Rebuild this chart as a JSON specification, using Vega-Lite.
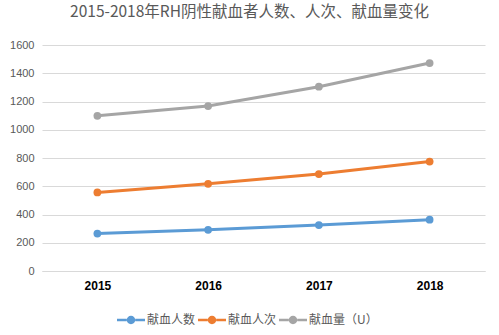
{
  "$schema": "https://vega.github.io/schema/vega-lite/v6.json",
  "autosize": {"type": "none"},
  "width": 443,
  "height": 226,
  "padding": {"left": 42, "top": 45, "right": 14, "bottom": 64},
  "background": "white",
  "title": {
    "text": "2015-2018年RH阴性献血者人数、人次、献血量变化",
    "font": "Noto Sans CJK SC",
    "fontSize": 15.5,
    "fontWeight": "normal",
    "color": "#595959",
    "anchor": "middle",
    "frame": "group",
    "offset": 19,
    "dx": -14
  },
  "config": {
    "view": {"stroke": null},
    "axis": {"labelFont": "Liberation Sans", "ticks": false}
  },
  "data": {
    "values": [
      {"year": "2015", "series": "献血人数", "value": 265},
      {"year": "2016", "series": "献血人数", "value": 292},
      {"year": "2017", "series": "献血人数", "value": 325},
      {"year": "2018", "series": "献血人数", "value": 363},
      {"year": "2015", "series": "献血人次", "value": 556},
      {"year": "2016", "series": "献血人次", "value": 617},
      {"year": "2017", "series": "献血人次", "value": 686},
      {"year": "2018", "series": "献血人次", "value": 775},
      {"year": "2015", "series": "献血量（U）", "value": 1099},
      {"year": "2016", "series": "献血量（U）", "value": 1168},
      {"year": "2017", "series": "献血量（U）", "value": 1305},
      {"year": "2018", "series": "献血量（U）", "value": 1472}
    ]
  },
  "encoding": {
    "x": {
      "field": "year",
      "type": "ordinal",
      "scale": {"type": "point", "padding": 0.5},
      "axis": {
        "title": null,
        "labelAngle": 0,
        "labelFontWeight": "bold",
        "labelFontSize": 12,
        "labelColor": "#000000",
        "labelPadding": 9,
        "domainColor": "#d9d9d9",
        "domainWidth": 1,
        "grid": false
      }
    },
    "y": {
      "field": "value",
      "type": "quantitative",
      "scale": {"domain": [0, 1600], "nice": false},
      "axis": {
        "title": null,
        "format": "d",
        "values": [0, 200, 400, 600, 800, 1000, 1200, 1400, 1600],
        "labelFontSize": 11,
        "labelColor": "#595959",
        "labelPadding": 8,
        "domain": false,
        "gridColor": "#d9d9d9",
        "gridWidth": 1
      }
    },
    "color": {
      "field": "series",
      "type": "nominal",
      "sort": ["献血人数", "献血人次", "献血量（U）"],
      "scale": {"domain": ["献血人数", "献血人次", "献血量（U）"], "range": ["#5B9BD5", "#ED7D31", "#A5A5A5"]},
      "legend": {
        "title": null,
        "orient": "none",
        "direction": "horizontal",
        "legendX": 75,
        "legendY": 261,
        "symbolType": "M-1,-0.09L-0.3,-0.09L-0.3,0.09L-1,0.09Z M0.3,-0.09L1,-0.09L1,0.09L0.3,0.09Z M-0.3,0A0.3,0.3 0 1,1 0.3,0A0.3,0.3 0 1,1 -0.3,0Z",
        "symbolSize": 784,
        "symbolStrokeWidth": 0,
        "labelFont": "Noto Sans CJK SC",
        "labelFontSize": 12,
        "labelColor": "#595959",
        "labelOffset": 2,
        "columnPadding": 2
      }
    }
  },
  "layer": [
    {"mark": {"type": "line", "strokeWidth": 3}},
    {"mark": {"type": "point", "filled": true, "size": 60, "opacity": 1, "shape": "circle"}}
  ]
}
